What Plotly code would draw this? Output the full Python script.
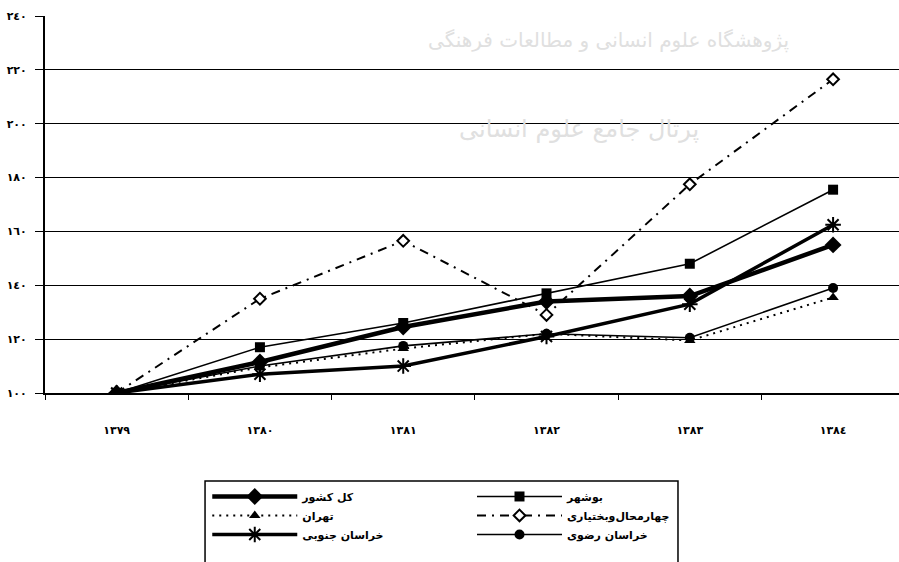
import plotly.graph_objects as go

years = ["١٣٧٩", "١٣٨٠", "١٣٨١", "١٣٨٢", "١٣٨٣", "١٣٨٤"]
y_ticks = [100, 120, 140, 160, 180, 200, 220, 240]
y_tick_labels = ["١٠٠", "١٢٠", "١٤٠", "١٦٠", "١٨٠", "٢٠٠", "٢٢٠", "٢٤٠"]

kol_keshvar = [100, 111.5, 124.5, 134, 136, 155]
bushehr = [100, 117, 126, 137, 148, 175.5]
tehran = [100, 109.5, 116.5, 122, 119.5, 135.5]
chaharmahal = [100, 135, 156.5, 129, 177.5, 216.5]
khorasan_jonubi = [100, 107, 110, 121, 133, 162.5]
khorasan_razavi = [100, 110, 117.5, 122, 120.5, 139]

names = ["کل کشور", "بوشهر", "تهران", "چهارمحال‌وبختیاری", "خراسان جنوبی", "خراسان رضوی"]

FONT = "DejaVu Sans"
fig = go.Figure()

fig.add_trace(go.Scatter(x=years, y=kol_keshvar, name=names[0], mode="lines+markers",
                         legend="legend",
                         line=dict(color="black", width=4.5),
                         marker=dict(symbol="diamond", size=13, color="black")))
fig.add_trace(go.Scatter(x=years, y=bushehr, name=names[1], mode="lines+markers",
                         legend="legend2",
                         line=dict(color="black", width=1.6),
                         marker=dict(symbol="square", size=10, color="black")))
fig.add_trace(go.Scatter(x=years, y=tehran, name=names[2], mode="lines+markers",
                         legend="legend",
                         line=dict(color="black", width=2, dash="2px,5px"),
                         marker=dict(symbol="triangle-up", size=10, color="black")))
fig.add_trace(go.Scatter(x=years, y=chaharmahal, name=names[3], mode="lines+markers",
                         legend="legend2",
                         line=dict(color="black", width=2, dash="9px,6px,2px,6px"),
                         marker=dict(symbol="diamond", size=9, color="white",
                                     line=dict(color="black", width=2))))
fig.add_trace(go.Scatter(x=years, y=khorasan_jonubi, name=names[4], mode="lines+markers",
                         legend="legend",
                         line=dict(color="black", width=3.5),
                         marker=dict(symbol="asterisk-open", size=13, color="black",
                                     line=dict(color="black", width=2))))
fig.add_trace(go.Scatter(x=years, y=khorasan_razavi, name=names[5], mode="lines+markers",
                         legend="legend2",
                         line=dict(color="black", width=1.6),
                         marker=dict(symbol="circle", size=10, color="black")))

# faint watermark
fig.add_annotation(text="پژوهشگاه علوم انسانی و مطالعات فرهنگی", xref="paper", yref="paper",
                   x=0.66, y=0.935, xanchor="center", yanchor="middle", showarrow=False,
                   font=dict(family=FONT, size=20, color="#e0e0e0"))
fig.add_annotation(text="پرتال جامع علوم انسانی", xref="paper", yref="paper",
                   x=0.625, y=0.70, xanchor="center", yanchor="middle", showarrow=False,
                   font=dict(family=FONT, size=24, color="#e0e0e0"))

# legend frame
fig.add_shape(type="rect", xref="paper", yref="paper",
              x0=0.1874, x1=0.7412, y0=-0.2334, y1=-0.47,
              line=dict(color="black", width=1.5), fillcolor="rgba(0,0,0,0)", layer="above")

legend_font = dict(family=FONT, size=11, color="black", weight="bold")
fig.update_layout(
    width=899, height=562,
    margin=dict(l=45, r=0, t=16, b=169, autoexpand=False),
    paper_bgcolor="white", plot_bgcolor="white",
    font=dict(family=FONT, color="black"),
    showlegend=True,
    legend=dict(orientation="v", x=0.19, y=-0.236, xanchor="left", yanchor="top",
                bgcolor="rgba(0,0,0,0)", borderwidth=0,
                font=legend_font, itemwidth=85, traceorder="normal"),
    legend2=dict(orientation="v", x=0.5, y=-0.236, xanchor="left", yanchor="top",
                 bgcolor="rgba(0,0,0,0)", borderwidth=0,
                 font=legend_font, itemwidth=85, traceorder="normal"),
    xaxis=dict(type="category", range=[-0.5, 5.46], showgrid=False, automargin=False,
               showline=True, linecolor="black", linewidth=2,
               ticks="outside", tickson="boundaries", ticklen=5, tickcolor="black",
               ticklabelstandoff=26,
               tickfont=dict(family=FONT, size=11, color="black", weight="bold"),
               zeroline=False, fixedrange=True),
    yaxis=dict(range=[100, 240], tickvals=y_ticks, ticktext=y_tick_labels, automargin=False,
               showgrid=True, gridcolor="black", gridwidth=1.3,
               showline=True, linecolor="black", linewidth=2,
               ticks="outside", ticklen=8, tickcolor="black", tickwidth=1.3,
               ticklabelstandoff=6,
               tickfont=dict(family=FONT, size=11, color="black", weight="bold"),
               zeroline=False),
)

fig.write_html("out.html", config={"displayModeBar": False},
               post_script="document.body.style.margin='0px';document.body.style.overflow='hidden';")
